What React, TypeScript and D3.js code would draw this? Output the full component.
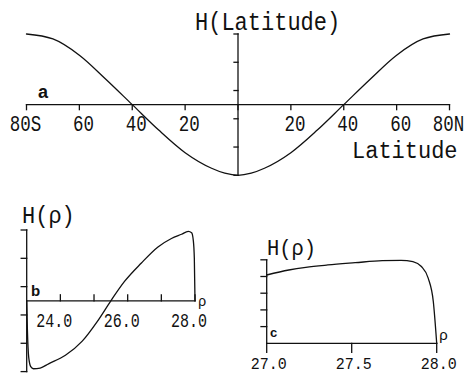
import React from "react";
import * as d3 from "d3";

// Panel a: H(Latitude)
const latValues = [-80, -70, -60, -50, -40, -30, -20, -10, -5, 0, 5, 10, 20, 30, 40, 50, 60, 70, 80];
const hLat = [1.0, 0.93, 0.7, 0.36, 0, -0.36, -0.68, -0.9, -0.97, -1.0, -0.97, -0.9, -0.68, -0.36, 0, 0.36, 0.7, 0.93, 1.0];
const latTicks = [-80, -60, -40, -20, 0, 20, 40, 60, 80];
const latTickLabels = ["80S", "60", "40", "20", "", "20", "40", "60", "80N"];
const hTicks = [-1, -0.6, -0.2, 0.2, 0.6, 1];

// Panel b: H(rho), rho 23..28
const rhoB = [23.0, 23.02, 23.06, 23.12, 23.2, 23.4, 23.65, 24.15, 24.65, 25.1, 25.5, 25.9, 26.4, 26.9, 27.3, 27.6, 27.8, 27.9, 27.95, 27.98, 28.0];
const hB = [0, -0.4, -0.8, -0.93, -0.96, -0.95, -0.89, -0.77, -0.57, -0.29, 0, 0.27, 0.53, 0.76, 0.88, 0.94, 0.98, 0.96, 0.85, 0.6, 0];
const rhoBTicks = [24, 25, 26, 27, 28];
const rhoBLabels = [24, 26, 28];

// Panel c: H(rho), rho 27..28
const rhoC = [27.0, 27.13, 27.23, 27.36, 27.52, 27.68, 27.79, 27.86, 27.91, 27.95, 27.98, 28.0];
const hC = [0.818, 0.878, 0.91, 0.938, 0.965, 0.99, 0.994, 0.978, 0.92, 0.78, 0.5, 0];
const cYTicks = [0.2, 0.4, 0.6, 0.8, 1.0];
const cXTicks = [27.0, 27.5, 28.0];

const INK = "#111";
const MONO = "'Liberation Mono', 'DejaVu Sans Mono', monospace";
const SANS = "'Liberation Sans', Arial, sans-serif";

function T({ x, y, size, sy = 1, anchor = "start", font = MONO, weight = "normal", children }: any) {
  return (
    <text
      transform={`translate(${x},${y}) scale(1,${sy})`}
      fontFamily={font}
      fontSize={size}
      fontWeight={weight}
      textAnchor={anchor}
      fill={INK}
    >
      {children}
    </text>
  );
}

export default function App() {
  const xA = d3.scaleLinear().domain([-80, 80]).range([26.5, 449.5]);
  const yA = d3.scaleLinear().domain([-1, 1]).range([175.3, 34]);
  const xB = d3.scaleLinear().domain([23, 28]).range([26.7, 195]);
  const yB = d3.scaleLinear().domain([-1, 1]).range([371.6, 230]);
  const xC = d3.scaleLinear().domain([27, 28]).range([266.7, 436.7]);
  const yC = d3.scaleLinear().domain([0, 1]).range([343.3, 259.8]);

  const lineA = d3
    .line<number>()
    .x((_, i) => xA(latValues[i]))
    .y((d) => yA(d))
    .curve(d3.curveMonotoneX)(hLat) as string;
  const lineB = d3
    .line<number>()
    .x((_, i) => xB(rhoB[i]))
    .y((d) => yB(d))
    .curve(d3.curveMonotoneX)(hB) as string;
  const lineC = d3
    .line<number>()
    .x((_, i) => xC(rhoC[i]))
    .y((d) => yC(d))
    .curve(d3.curveMonotoneX)(hC) as string;

  const sw = 1.3;

  return (
    <svg
      width={464}
      height={375}
      style={{ position: "absolute", left: 0, top: 0, background: "#fff" }}
    >
      <g stroke={INK} strokeWidth={sw} fill="none" strokeLinecap="square">
        {/* Panel a axes */}
        <line x1={xA(-80)} x2={xA(80)} y1={yA(0)} y2={yA(0)} />
        {latTicks.map((t) => (
          <line key={"at" + t} x1={xA(t)} x2={xA(t)} y1={yA(0)} y2={yA(0) + 5} />
        ))}
        <line x1={xA(0)} x2={xA(0)} y1={yA(1)} y2={yA(-1)} />
        {hTicks.map((t) => (
          <line key={"ay" + t} x1={xA(0) - 4} x2={xA(0)} y1={yA(t)} y2={yA(t)} />
        ))}
        <path d={lineA} strokeLinecap="round" />

        {/* Panel b axes */}
        <line x1={xB(23)} x2={xB(28)} y1={yB(0)} y2={yB(0)} />
        {rhoBTicks.map((t) => (
          <line key={"bt" + t} x1={xB(t)} x2={xB(t)} y1={yB(0)} y2={yB(0) - 6} />
        ))}
        <line x1={xB(23)} x2={xB(23)} y1={yB(1)} y2={yB(-1)} />
        {hTicks.map((t) => (
          <line key={"by" + t} x1={xB(23) - 5.5} x2={xB(23)} y1={yB(t)} y2={yB(t)} />
        ))}
        <path d={lineB} strokeLinecap="round" />

        {/* Panel c axes */}
        <line x1={xC(27)} x2={xC(28)} y1={yC(0)} y2={yC(0)} />
        {cXTicks.map((t) => (
          <line key={"ct" + t} x1={xC(t)} x2={xC(t)} y1={yC(0)} y2={yC(0) + 9} />
        ))}
        <line x1={xC(27)} x2={xC(27)} y1={yC(1)} y2={yC(0)} />
        {cYTicks.map((t) => (
          <line key={"cy" + t} x1={xC(27) - 5.7} x2={xC(27)} y1={yC(t)} y2={yC(t)} />
        ))}
        <path d={lineC} strokeLinecap="round" />
      </g>

      {/* Panel a text */}
      <T x={195} y={30} size={22} sy={1.17}>H(Latitude)</T>
      <T x={352} y={158} size={22} sy={1.12}>Latitude</T>
      {latTicks.map((t, i) => (
        <T key={"al" + t} x={xA(t) + (Math.abs(t) === 80 ? -1 : 4)} y={131} size={17.5} sy={1.28} anchor="middle">
          {latTickLabels[i]}
        </T>
      ))}
      <T x={38} y={98.3} size={18} font={SANS} weight="bold">a</T>

      {/* Panel b text */}
      <T x={22} y={223} size={22} sy={1.1}>H(ρ)</T>
      {rhoBLabels.map((t) => (
        <T key={"bl" + t} x={xB(t) - 6} y={327} size={15} sy={1.3} anchor="middle">
          {t.toFixed(1)}
        </T>
      ))}
      <T x={198} y={306} size={14}>ρ</T>
      <T x={31} y={296} size={15} font={SANS} weight="bold">b</T>

      {/* Panel c text */}
      <T x={267} y={255} size={20.5} sy={1.1}>H(ρ)</T>
      {cXTicks.map((t) => (
        <T key={"cl" + t} x={xC(t) + 2} y={369} size={15} sy={1.15} anchor="middle">
          {t.toFixed(1)}
        </T>
      ))}
      <T x={439} y={340} size={15}>ρ</T>
      <T x={270} y={336.7} size={13} font={SANS} weight="bold">c</T>
    </svg>
  );
}
